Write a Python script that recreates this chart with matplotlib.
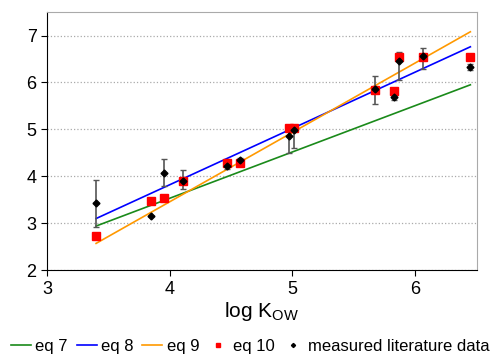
import matplotlib.pyplot as plt

plt.rcParams['font.family'] = ['Liberation Sans', 'DejaVu Sans']

# measured literature data (log Kow, value, error)
log_kow = [3.40, 3.85, 3.95, 4.11, 4.47, 4.57, 4.97, 5.01, 5.67, 5.83, 5.87, 6.06, 6.45]
measured = [3.43, 3.15, 4.08, 3.89, 4.21, 4.34, 4.86, 4.99, 5.87, 5.70, 6.46, 6.56, 6.33]
err_lo = [0.50, 0.00, 0.28, 0.17, 0.05, 0.05, 0.36, 0.38, 0.32, 0.07, 0.40, 0.28, 0.06]
err_hi = [0.50, 0.00, 0.28, 0.24, 0.05, 0.05, 0.16, 0.09, 0.27, 0.07, 0.18, 0.18, 0.06]
eq10 = [2.73, 3.48, 3.54, 3.91, 4.28, 4.29, 5.02, 5.02, 5.83, 5.82, 6.55, 6.55, 6.55]

# fitted lines
line_x = [3.40, 6.45]
eq7 = [2.94, 5.95]
eq8 = [3.10, 6.76]
eq9 = [2.57, 7.08]

fig = plt.figure(figsize=(5, 3.55), dpi=100)
ax = fig.add_axes([0.094, 0.239, 0.859, 0.727])

ax.plot(line_x, eq7, color='#1a8a1a', lw=1.2, label='eq 7')
ax.plot(line_x, eq8, color='#0000ff', lw=1.2, label='eq 8')
ax.plot(line_x, eq9, color='#ff9900', lw=1.2, label='eq 9')
ax.errorbar(log_kow, measured, yerr=[err_lo, err_hi], fmt='none',
            ecolor='#555555', elinewidth=1.2, capsize=2, zorder=2)
ax.plot(log_kow, eq10, 's', color='#ff0000', ms=6, label='eq 10', zorder=3)
ax.plot(log_kow, measured, 'D', color='black', ms=3.5, label='measured literature data', zorder=4)

ax.set_xlim(3, 6.5)
ax.set_ylim(2, 7.5)
ax.set_xticks([3, 4, 5, 6])
ax.set_yticks([2, 3, 4, 5, 6, 7])
ax.yaxis.grid(True, linestyle=':', color='#aaaaaa', lw=0.9)
ax.set_axisbelow(True)
ax.tick_params(labelsize=13, direction='out', length=4)
ax.spines['top'].set_color('#aaaaaa')
ax.spines['right'].set_color('#aaaaaa')
ax.set_xlabel(r'log K$_\mathregular{OW}$', fontsize=15, labelpad=2)

fig.legend(loc='lower center', bbox_to_anchor=(0.5, -0.025), ncol=5, frameon=False,
           fontsize=12, handlelength=1.2, handletextpad=0.25, columnspacing=0.55,
           markerscale=0.6, borderaxespad=0.2)

fig.savefig('out.png')
